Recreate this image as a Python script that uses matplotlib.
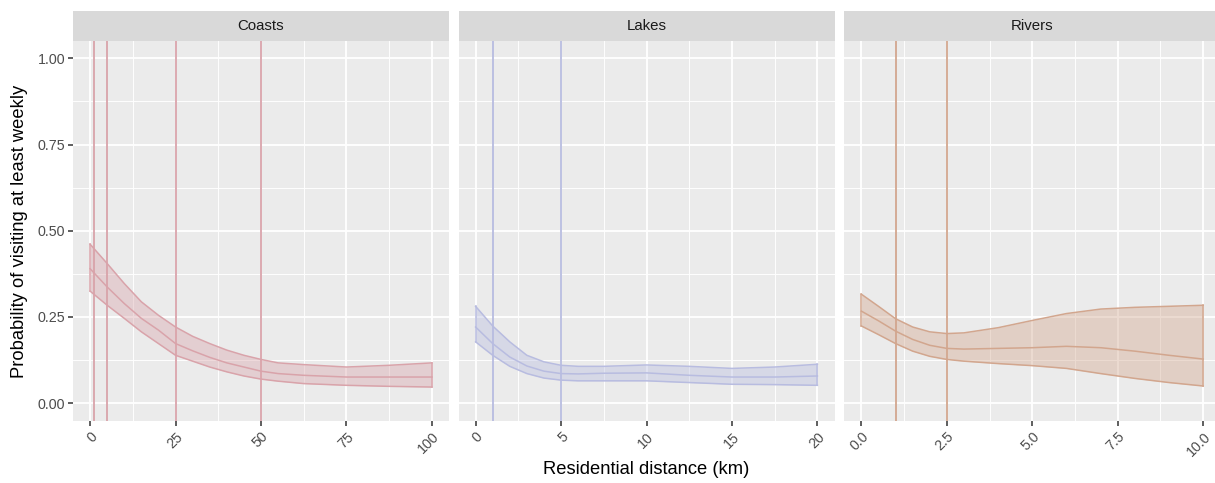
import matplotlib
matplotlib.use("Agg")
import matplotlib.pyplot as plt
import numpy as np

plt.rcParams['font.family'] = ['Liberation Sans', 'DejaVu Sans']

panels = ["Coasts", "Lakes", "Rivers"]

coasts_x = [0, 5, 10, 15, 20, 25, 30, 35, 40, 45, 50, 55, 62.5, 75, 87.5, 100]
coasts_mid = [0.390, 0.337, 0.289, 0.246, 0.212, 0.173, 0.152, 0.133, 0.117, 0.105, 0.093, 0.086,
              0.081, 0.076, 0.076, 0.076]
coasts_lo = [0.325, 0.284, 0.246, 0.207, 0.173, 0.139, 0.122, 0.105, 0.091, 0.079, 0.070, 0.064,
             0.057, 0.052, 0.049, 0.047]
coasts_hi = [0.461, 0.405, 0.347, 0.294, 0.255, 0.221, 0.194, 0.173, 0.154, 0.139, 0.127, 0.117,
             0.112, 0.105, 0.110, 0.117]
coasts_vlines = [1, 5, 25, 50]

lakes_x = [0, 1, 2, 3, 4, 5, 6, 7.5, 10, 12.5, 15, 17.5, 20]
lakes_mid = [0.221, 0.173, 0.134, 0.108, 0.093, 0.086, 0.085, 0.087, 0.088, 0.081, 0.076, 0.076, 0.079]
lakes_lo = [0.178, 0.139, 0.107, 0.086, 0.073, 0.067, 0.065, 0.065, 0.065, 0.060, 0.055, 0.054, 0.052]
lakes_hi = [0.281, 0.224, 0.178, 0.139, 0.120, 0.110, 0.107, 0.107, 0.111, 0.107, 0.101, 0.105, 0.113]
lakes_vlines = [1, 5]

rivers_x = [0, 0.5, 1, 1.5, 2, 2.5, 3, 4, 5, 6, 7, 8, 9, 10]
rivers_mid = [0.267, 0.239, 0.209, 0.185, 0.168, 0.159, 0.157, 0.159, 0.161, 0.165, 0.161, 0.151,
              0.139, 0.128]
rivers_lo = [0.224, 0.199, 0.173, 0.151, 0.136, 0.127, 0.122, 0.115, 0.109, 0.101, 0.086, 0.072,
             0.060, 0.050]
rivers_hi = [0.316, 0.281, 0.245, 0.221, 0.207, 0.202, 0.204, 0.219, 0.240, 0.260, 0.273, 0.278,
             0.281, 0.284]
rivers_vlines = [1, 2.5]

x_ticks = {
    "Coasts": ([0, 25, 50, 75, 100], ["0", "25", "50", "75", "100"]),
    "Lakes": ([0, 5, 10, 15, 20], ["0", "5", "10", "15", "20"]),
    "Rivers": ([0, 2.5, 5, 7.5, 10], ["0.0", "2.5", "5.0", "7.5", "10.0"]),
}
y_ticks = [0, 0.25, 0.5, 0.75, 1.0]
y_labels = ["0.00", "0.25", "0.50", "0.75", "1.00"]

data = {
    "Coasts": (coasts_x, coasts_mid, coasts_lo, coasts_hi, coasts_vlines, 100),
    "Lakes": (lakes_x, lakes_mid, lakes_lo, lakes_hi, lakes_vlines, 20),
    "Rivers": (rivers_x, rivers_mid, rivers_lo, rivers_hi, rivers_vlines, 10),
}
colors = {"Coasts": "#d9a3aa", "Lakes": "#b8bce0", "Rivers": "#d2a68e"}

W, H = 1215, 483
fig = plt.figure(figsize=(W / 100, H / 100), dpi=100)
lefts = [73, 458.5, 844.3]
pw = 376
ptop, pbot = 41, 420.5
strip_h = 30

for i, name in enumerate(panels):
    xs, mid, lo, hi, vls, xmax = data[name]
    ax = fig.add_axes([lefts[i] / W, 1 - pbot / H, pw / W, (pbot - ptop) / H])
    ax.set_facecolor("#EBEBEB")
    for s in ax.spines.values():
        s.set_visible(False)
    ax.set_xlim(-0.05 * xmax, 1.05 * xmax)
    ax.set_ylim(-0.05, 1.05)
    ticks, labels = x_ticks[name]
    minors = [(ticks[j] + ticks[j + 1]) / 2 for j in range(len(ticks) - 1)]
    ax.set_xticks(ticks)
    ax.set_xticks(minors, minor=True)
    ax.set_yticks(y_ticks)
    ax.set_yticks([0.125, 0.375, 0.625, 0.875], minor=True)
    ax.grid(True, which="major", color="white", linewidth=1.3)
    ax.grid(True, which="minor", color="white", linewidth=0.65)
    ax.set_axisbelow(True)
    ax.set_xticklabels(labels, rotation=45, ha="right", va="top", rotation_mode="anchor",
                       fontsize=10.3, color="#4D4D4D")
    ax.tick_params(axis="x", which="major", length=3.5, width=1.1, color="#333333", pad=3)
    ax.tick_params(which="minor", length=0)
    if i == 0:
        ax.set_yticklabels(y_labels, fontsize=10.3, color="#4D4D4D")
        ax.tick_params(axis="y", which="major", length=3.5, width=1.1, color="#333333", pad=2)
    else:
        ax.tick_params(axis="y", which="major", length=0, labelleft=False)
    c = colors[name]
    ax.fill_between(xs, lo, hi, color=c, alpha=0.4, linewidth=0)
    ax.plot(xs, lo, color=c, lw=1.1)
    ax.plot(xs, hi, color=c, lw=1.1)
    ax.plot(xs, mid, color=c, lw=1.1)
    ax.plot([xs[0], xs[0]], [lo[0], hi[0]], color=c, lw=1.1)
    ax.plot([xs[-1], xs[-1]], [lo[-1], hi[-1]], color=c, lw=1.1)
    for v in vls:
        ax.axvline(v, color=c, lw=1.3)
    # strip
    sax = fig.add_axes([lefts[i] / W, 1 - ptop / H, pw / W, strip_h / H])
    sax.set_facecolor("#D9D9D9")
    sax.set_xticks([]); sax.set_yticks([])
    for s in sax.spines.values():
        s.set_visible(False)
    sax.text(0.5, 0.5, name, ha="center", va="center", fontsize=10.8, color="#1A1A1A",
             transform=sax.transAxes)

fig.text(646 / W, 1 - 470 / H, "Residential distance (km)", ha="center", va="center",
         fontsize=13.2, color="black")
fig.text(20 / W, 1 - 231 / H, "Probability of visiting at least weekly", ha="center",
         va="center", rotation=90, fontsize=13.2, color="black")

fig.savefig("out.png", dpi=100, facecolor="white")
